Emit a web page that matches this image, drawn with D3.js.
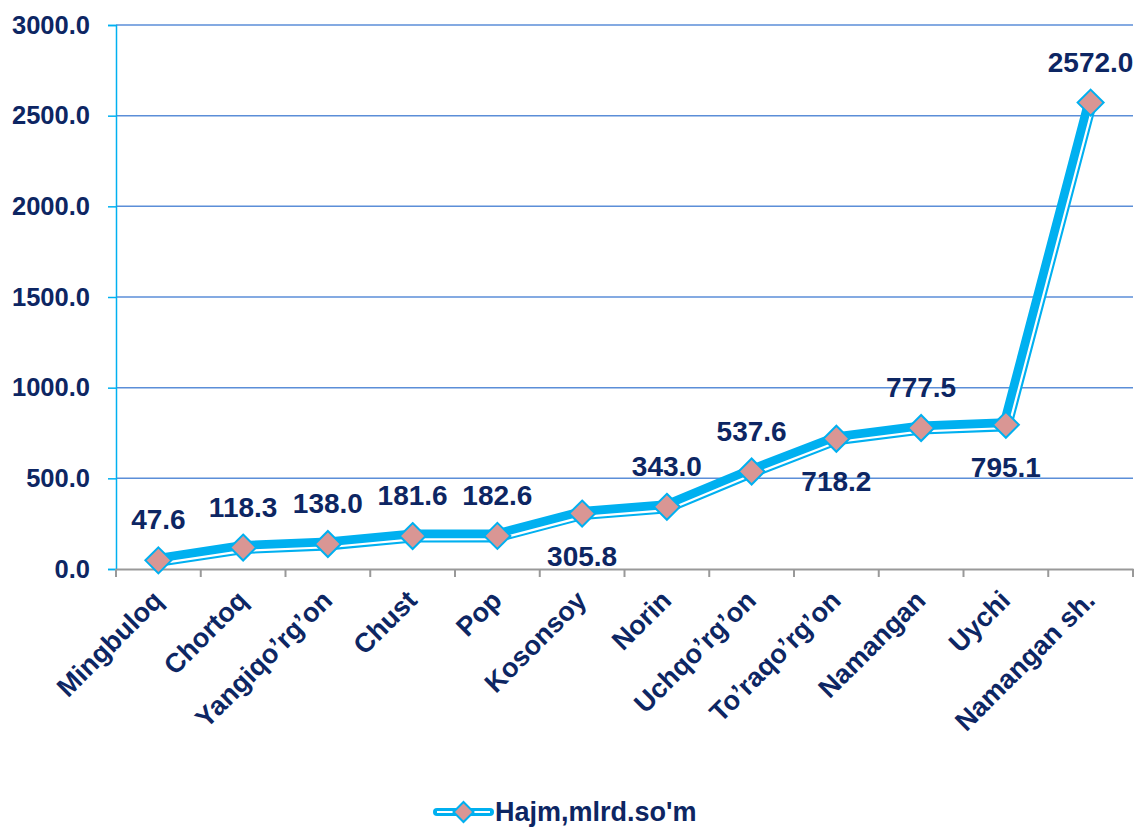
<!DOCTYPE html>
<html><head><meta charset="utf-8">
<script src="https://cdn.jsdelivr.net/npm/d3@7"></script>
<style>html,body{margin:0;padding:0;background:#fff}</style>
</head><body>
<script>
const categories = ["Mingbuloq","Chortoq","Yangiqo\u2019rg\u2019on","Chust","Pop","Kosonsoy","Norin","Uchqo\u2019rg\u2019on","To\u2019raqo\u2019rg\u2019on","Namangan","Uychi","Namangan sh."];
const values = [47.6,118.3,138.0,181.6,182.6,305.8,343.0,537.6,718.2,777.5,795.1,2572.0];
const labelSide = ["above","above","above","above","above","below","above","above","below","above","below","above"];
const yTicks = [0,500,1000,1500,2000,2500,3000];
const seriesName = "Hajm,mlrd.so'm";

const W = 1138, H = 828;
const margin = {left:116, right:5, top:25, bottom:259};
const navy = "#0d2663", cyan = "#00b0f0";
const svg = d3.select("body").append("svg").attr("width",W).attr("height",H)
  .style("font-family","'Liberation Sans', Arial, sans-serif");

const x = d3.scaleBand().domain(categories).range([margin.left, W-margin.right]);
const y = d3.scaleLinear().domain([0,3000]).range([H-margin.bottom, margin.top]);

// gridlines
svg.append("g").selectAll("line").data(yTicks.filter(d=>d>0)).join("line")
  .attr("x1",margin.left).attr("x2",W-margin.right)
  .attr("y1",d=>y(d)).attr("y2",d=>y(d))
  .attr("stroke","#5b8ed8").attr("stroke-width",1.5);

// y axis
const yAxis = svg.append("g").attr("transform",`translate(${margin.left},0)`)
  .call(d3.axisLeft(y).tickValues(yTicks).tickFormat(d3.format(".1f")).tickSize(8).tickPadding(18));
yAxis.select(".domain").attr("stroke",cyan).attr("stroke-width",1.5);
yAxis.selectAll(".tick line").attr("stroke",cyan).attr("stroke-width",1.5);
yAxis.selectAll("text").attr("fill",navy).attr("font-size",25.5).attr("font-weight","bold").attr("font-family","'Liberation Sans', Arial, sans-serif");

// x axis
const xAxis = svg.append("g").attr("transform",`translate(0,${y(0)})`)
  .call(d3.axisBottom(x).tickSize(0).tickFormat(""));
xAxis.select(".domain").attr("stroke","#999").attr("stroke-width",2);
const bounds = categories.map(c=>x(c)).concat([x(categories[categories.length-1])+x.bandwidth()]);
svg.append("g").selectAll("line").data(bounds).join("line")
  .attr("x1",d=>d).attr("x2",d=>d).attr("y1",y(0)).attr("y2",y(0)+8)
  .attr("stroke","#999").attr("stroke-width",2);
svg.append("g").selectAll("text").data(categories).join("text")
  .attr("transform",d=>`translate(${x(d)+x.bandwidth()/2+6},${y(0)+33}) rotate(-45)`)
  .attr("text-anchor","end").attr("fill",navy).attr("font-size",27).attr("font-weight","bold")
  .text(d=>d);

// line data
const pts = categories.map((c,i)=>[x(c)+x.bandwidth()/2, y(values[i])]);
function offsetLine(p, d){
  const n = [];
  for(let i=0;i<p.length-1;i++){
    const dx=p[i+1][0]-p[i][0], dy=p[i+1][1]-p[i][1], L=Math.hypot(dx,dy);
    n.push([-dy/L, dx/L]);
  }
  return p.map((q,i)=>{
    const a = n[Math.max(0,i-1)], b = n[Math.min(n.length-1,i)];
    const dot = a[0]*b[0]+a[1]*b[1];
    const k = d/(1+dot);
    return [q[0]+(a[0]+b[0])*k, q[1]+(a[1]+b[1])*k];
  });
}
const line = d3.line();
function drawDouble(g, p, w, off, ww){
  g.append("path").attr("d",line(p)).attr("fill","none").attr("stroke",cyan)
    .attr("stroke-width",w).attr("stroke-linejoin","miter");
  g.append("path").attr("d",line(offsetLine(p,off))).attr("fill","none").attr("stroke","#fff")
    .attr("stroke-width",ww).attr("stroke-linejoin","miter");
}
drawDouble(svg.append("g"), pts, 13, 3.3, 2.2);

const diamond = (cx,cy,r)=>`M${cx},${cy-r}L${cx+r},${cy}L${cx},${cy+r}L${cx-r},${cy}Z`;
svg.append("g").selectAll("path").data(pts).join("path")
  .attr("d",d=>diamond(d[0],d[1],13)).attr("fill","#d99694").attr("stroke",cyan).attr("stroke-width",2);

// data labels
svg.append("g").selectAll("text").data(values).join("text")
  .attr("x",(d,i)=>pts[i][0]).attr("y",(d,i)=>pts[i][1] + (labelSide[i]==="above" ? -31 : 52))
  .attr("text-anchor","middle").attr("fill",navy).attr("font-size",28).attr("font-weight","bold")
  .text(d=>d3.format(".1f")(d));

// legend
const lg = svg.append("g");
const lx0 = 437, lx1 = 490, ly = 812;
lg.append("line").attr("x1",lx0).attr("x2",lx1).attr("y1",ly).attr("y2",ly)
  .attr("stroke",cyan).attr("stroke-width",8).attr("stroke-linecap","round");
lg.append("line").attr("x1",lx0).attr("x2",lx1).attr("y1",ly).attr("y2",ly)
  .attr("stroke","#fff").attr("stroke-width",2);
lg.append("path").attr("d",diamond((lx0+lx1)/2,ly,10)).attr("fill","#d99694").attr("stroke",cyan).attr("stroke-width",2);
lg.append("text").attr("x",lx1+5).attr("y",ly+9).attr("fill",navy).attr("font-size",27).attr("font-weight","bold").text(seriesName);
</script>
</body></html>
